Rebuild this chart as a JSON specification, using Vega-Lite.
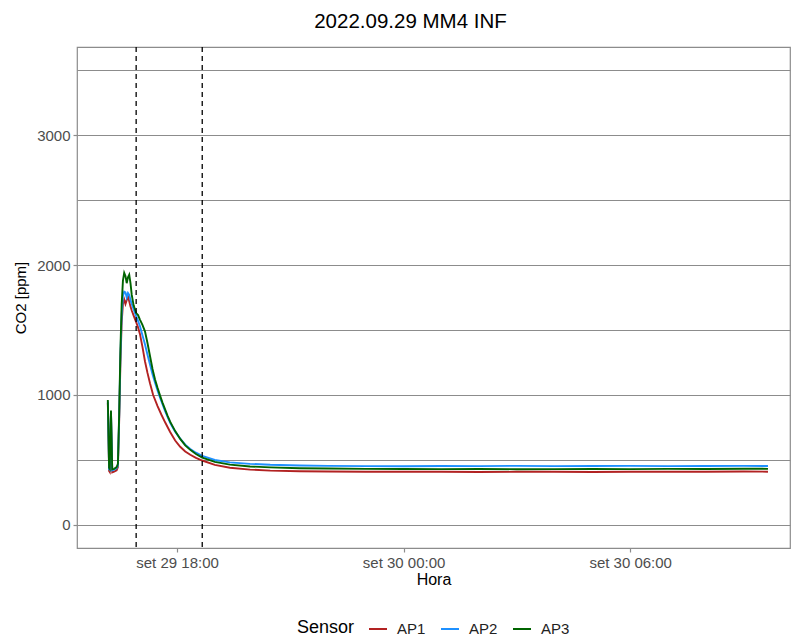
{
  "$schema": "https://vega.github.io/schema/vega-lite/v6.json",
  "width": 713,
  "height": 501,
  "autosize": {"type": "none"},
  "padding": {"left": 77, "top": 47, "right": 2, "bottom": 91},
  "background": "white",
  "title": {"text": "2022.09.29 MM4 INF", "fontSize": 20.5, "font": "Liberation Sans", "fontWeight": "normal", "color": "#000000", "anchor": "middle", "offset": 14, "dx": -23},
  "config": {"view": {"stroke": "#8c8c8c", "strokeWidth": 1.2}, "font": "Liberation Sans"},
  "datasets": {
    "co2": [
      {"Hora": "2022-09-29T16:10:00Z", "Sensor": "AP1", "CO2": 940},
      {"Hora": "2022-09-29T16:12:00Z", "Sensor": "AP1", "CO2": 415},
      {"Hora": "2022-09-29T16:13:00Z", "Sensor": "AP1", "CO2": 408},
      {"Hora": "2022-09-29T16:15:00Z", "Sensor": "AP1", "CO2": 860},
      {"Hora": "2022-09-29T16:17:00Z", "Sensor": "AP1", "CO2": 405},
      {"Hora": "2022-09-29T16:20:00Z", "Sensor": "AP1", "CO2": 410},
      {"Hora": "2022-09-29T16:24:00Z", "Sensor": "AP1", "CO2": 420},
      {"Hora": "2022-09-29T16:26:00Z", "Sensor": "AP1", "CO2": 445},
      {"Hora": "2022-09-29T16:28:00Z", "Sensor": "AP1", "CO2": 800},
      {"Hora": "2022-09-29T16:30:00Z", "Sensor": "AP1", "CO2": 1250},
      {"Hora": "2022-09-29T16:32:00Z", "Sensor": "AP1", "CO2": 1560},
      {"Hora": "2022-09-29T16:34:00Z", "Sensor": "AP1", "CO2": 1700},
      {"Hora": "2022-09-29T16:36:00Z", "Sensor": "AP1", "CO2": 1735},
      {"Hora": "2022-09-29T16:38:00Z", "Sensor": "AP1", "CO2": 1700},
      {"Hora": "2022-09-29T16:40:00Z", "Sensor": "AP1", "CO2": 1730},
      {"Hora": "2022-09-29T16:42:00Z", "Sensor": "AP1", "CO2": 1760},
      {"Hora": "2022-09-29T16:44:00Z", "Sensor": "AP1", "CO2": 1720},
      {"Hora": "2022-09-29T16:46:00Z", "Sensor": "AP1", "CO2": 1680},
      {"Hora": "2022-09-29T16:48:00Z", "Sensor": "AP1", "CO2": 1650},
      {"Hora": "2022-09-29T16:51:00Z", "Sensor": "AP1", "CO2": 1610},
      {"Hora": "2022-09-29T16:55:00Z", "Sensor": "AP1", "CO2": 1560},
      {"Hora": "2022-09-29T16:58:00Z", "Sensor": "AP1", "CO2": 1520},
      {"Hora": "2022-09-29T17:01:00Z", "Sensor": "AP1", "CO2": 1470},
      {"Hora": "2022-09-29T17:05:00Z", "Sensor": "AP1", "CO2": 1370},
      {"Hora": "2022-09-29T17:09:00Z", "Sensor": "AP1", "CO2": 1260},
      {"Hora": "2022-09-29T17:13:00Z", "Sensor": "AP1", "CO2": 1170},
      {"Hora": "2022-09-29T17:17:00Z", "Sensor": "AP1", "CO2": 1090},
      {"Hora": "2022-09-29T17:22:00Z", "Sensor": "AP1", "CO2": 1000},
      {"Hora": "2022-09-29T17:29:00Z", "Sensor": "AP1", "CO2": 915},
      {"Hora": "2022-09-29T17:35:00Z", "Sensor": "AP1", "CO2": 850},
      {"Hora": "2022-09-29T17:41:00Z", "Sensor": "AP1", "CO2": 790},
      {"Hora": "2022-09-29T17:49:00Z", "Sensor": "AP1", "CO2": 715},
      {"Hora": "2022-09-29T17:57:00Z", "Sensor": "AP1", "CO2": 650},
      {"Hora": "2022-09-29T18:05:00Z", "Sensor": "AP1", "CO2": 602},
      {"Hora": "2022-09-29T18:13:00Z", "Sensor": "AP1", "CO2": 566},
      {"Hora": "2022-09-29T18:21:00Z", "Sensor": "AP1", "CO2": 540},
      {"Hora": "2022-09-29T18:30:00Z", "Sensor": "AP1", "CO2": 516},
      {"Hora": "2022-09-29T18:40:00Z", "Sensor": "AP1", "CO2": 496},
      {"Hora": "2022-09-29T19:00:00Z", "Sensor": "AP1", "CO2": 462},
      {"Hora": "2022-09-29T19:24:00Z", "Sensor": "AP1", "CO2": 440},
      {"Hora": "2022-09-29T19:56:00Z", "Sensor": "AP1", "CO2": 426},
      {"Hora": "2022-09-29T20:28:00Z", "Sensor": "AP1", "CO2": 418},
      {"Hora": "2022-09-29T21:15:00Z", "Sensor": "AP1", "CO2": 413},
      {"Hora": "2022-09-29T22:00:00Z", "Sensor": "AP1", "CO2": 411},
      {"Hora": "2022-09-29T23:00:00Z", "Sensor": "AP1", "CO2": 410},
      {"Hora": "2022-09-30T00:00:00Z", "Sensor": "AP1", "CO2": 409},
      {"Hora": "2022-09-30T01:00:00Z", "Sensor": "AP1", "CO2": 410},
      {"Hora": "2022-09-30T02:00:00Z", "Sensor": "AP1", "CO2": 408},
      {"Hora": "2022-09-30T03:00:00Z", "Sensor": "AP1", "CO2": 409},
      {"Hora": "2022-09-30T04:00:00Z", "Sensor": "AP1", "CO2": 410},
      {"Hora": "2022-09-30T05:00:00Z", "Sensor": "AP1", "CO2": 408},
      {"Hora": "2022-09-30T06:00:00Z", "Sensor": "AP1", "CO2": 409},
      {"Hora": "2022-09-30T07:00:00Z", "Sensor": "AP1", "CO2": 410},
      {"Hora": "2022-09-30T08:00:00Z", "Sensor": "AP1", "CO2": 409},
      {"Hora": "2022-09-30T09:00:00Z", "Sensor": "AP1", "CO2": 411},
      {"Hora": "2022-09-30T09:39:00Z", "Sensor": "AP1", "CO2": 410},

      {"Hora": "2022-09-29T16:10:00Z", "Sensor": "AP2", "CO2": 950},
      {"Hora": "2022-09-29T16:12:00Z", "Sensor": "AP2", "CO2": 430},
      {"Hora": "2022-09-29T16:13:00Z", "Sensor": "AP2", "CO2": 425},
      {"Hora": "2022-09-29T16:15:00Z", "Sensor": "AP2", "CO2": 870},
      {"Hora": "2022-09-29T16:17:00Z", "Sensor": "AP2", "CO2": 420},
      {"Hora": "2022-09-29T16:20:00Z", "Sensor": "AP2", "CO2": 425},
      {"Hora": "2022-09-29T16:24:00Z", "Sensor": "AP2", "CO2": 438},
      {"Hora": "2022-09-29T16:26:00Z", "Sensor": "AP2", "CO2": 460},
      {"Hora": "2022-09-29T16:28:00Z", "Sensor": "AP2", "CO2": 830},
      {"Hora": "2022-09-29T16:30:00Z", "Sensor": "AP2", "CO2": 1300},
      {"Hora": "2022-09-29T16:32:00Z", "Sensor": "AP2", "CO2": 1620},
      {"Hora": "2022-09-29T16:34:00Z", "Sensor": "AP2", "CO2": 1760},
      {"Hora": "2022-09-29T16:36:00Z", "Sensor": "AP2", "CO2": 1795},
      {"Hora": "2022-09-29T16:38:00Z", "Sensor": "AP2", "CO2": 1790},
      {"Hora": "2022-09-29T16:40:00Z", "Sensor": "AP2", "CO2": 1750},
      {"Hora": "2022-09-29T16:42:00Z", "Sensor": "AP2", "CO2": 1785},
      {"Hora": "2022-09-29T16:44:00Z", "Sensor": "AP2", "CO2": 1770},
      {"Hora": "2022-09-29T16:46:00Z", "Sensor": "AP2", "CO2": 1730},
      {"Hora": "2022-09-29T16:48:00Z", "Sensor": "AP2", "CO2": 1700},
      {"Hora": "2022-09-29T16:51:00Z", "Sensor": "AP2", "CO2": 1660},
      {"Hora": "2022-09-29T16:55:00Z", "Sensor": "AP2", "CO2": 1605},
      {"Hora": "2022-09-29T16:58:00Z", "Sensor": "AP2", "CO2": 1570},
      {"Hora": "2022-09-29T17:01:00Z", "Sensor": "AP2", "CO2": 1530},
      {"Hora": "2022-09-29T17:05:00Z", "Sensor": "AP2", "CO2": 1460},
      {"Hora": "2022-09-29T17:09:00Z", "Sensor": "AP2", "CO2": 1390},
      {"Hora": "2022-09-29T17:13:00Z", "Sensor": "AP2", "CO2": 1310},
      {"Hora": "2022-09-29T17:17:00Z", "Sensor": "AP2", "CO2": 1235},
      {"Hora": "2022-09-29T17:21:00Z", "Sensor": "AP2", "CO2": 1160},
      {"Hora": "2022-09-29T17:25:00Z", "Sensor": "AP2", "CO2": 1095},
      {"Hora": "2022-09-29T17:29:00Z", "Sensor": "AP2", "CO2": 1035},
      {"Hora": "2022-09-29T17:33:00Z", "Sensor": "AP2", "CO2": 980},
      {"Hora": "2022-09-29T17:41:00Z", "Sensor": "AP2", "CO2": 875},
      {"Hora": "2022-09-29T17:49:00Z", "Sensor": "AP2", "CO2": 785},
      {"Hora": "2022-09-29T17:57:00Z", "Sensor": "AP2", "CO2": 718},
      {"Hora": "2022-09-29T18:05:00Z", "Sensor": "AP2", "CO2": 664},
      {"Hora": "2022-09-29T18:13:00Z", "Sensor": "AP2", "CO2": 618},
      {"Hora": "2022-09-29T18:21:00Z", "Sensor": "AP2", "CO2": 584},
      {"Hora": "2022-09-29T18:30:00Z", "Sensor": "AP2", "CO2": 556},
      {"Hora": "2022-09-29T18:40:00Z", "Sensor": "AP2", "CO2": 532},
      {"Hora": "2022-09-29T19:00:00Z", "Sensor": "AP2", "CO2": 500},
      {"Hora": "2022-09-29T19:24:00Z", "Sensor": "AP2", "CO2": 482},
      {"Hora": "2022-09-29T19:56:00Z", "Sensor": "AP2", "CO2": 470},
      {"Hora": "2022-09-29T20:28:00Z", "Sensor": "AP2", "CO2": 463},
      {"Hora": "2022-09-29T21:15:00Z", "Sensor": "AP2", "CO2": 458},
      {"Hora": "2022-09-29T22:00:00Z", "Sensor": "AP2", "CO2": 455},
      {"Hora": "2022-09-29T23:00:00Z", "Sensor": "AP2", "CO2": 453},
      {"Hora": "2022-09-30T00:00:00Z", "Sensor": "AP2", "CO2": 452},
      {"Hora": "2022-09-30T01:00:00Z", "Sensor": "AP2", "CO2": 454},
      {"Hora": "2022-09-30T02:00:00Z", "Sensor": "AP2", "CO2": 453},
      {"Hora": "2022-09-30T03:00:00Z", "Sensor": "AP2", "CO2": 455},
      {"Hora": "2022-09-30T04:00:00Z", "Sensor": "AP2", "CO2": 453},
      {"Hora": "2022-09-30T05:00:00Z", "Sensor": "AP2", "CO2": 454},
      {"Hora": "2022-09-30T06:00:00Z", "Sensor": "AP2", "CO2": 455},
      {"Hora": "2022-09-30T07:00:00Z", "Sensor": "AP2", "CO2": 453},
      {"Hora": "2022-09-30T08:00:00Z", "Sensor": "AP2", "CO2": 454},
      {"Hora": "2022-09-30T09:00:00Z", "Sensor": "AP2", "CO2": 455},
      {"Hora": "2022-09-30T09:39:00Z", "Sensor": "AP2", "CO2": 454},

      {"Hora": "2022-09-29T16:10:00Z", "Sensor": "AP3", "CO2": 962},
      {"Hora": "2022-09-29T16:12:00Z", "Sensor": "AP3", "CO2": 440},
      {"Hora": "2022-09-29T16:13:00Z", "Sensor": "AP3", "CO2": 432},
      {"Hora": "2022-09-29T16:15:00Z", "Sensor": "AP3", "CO2": 880},
      {"Hora": "2022-09-29T16:17:00Z", "Sensor": "AP3", "CO2": 428},
      {"Hora": "2022-09-29T16:20:00Z", "Sensor": "AP3", "CO2": 432},
      {"Hora": "2022-09-29T16:24:00Z", "Sensor": "AP3", "CO2": 445},
      {"Hora": "2022-09-29T16:26:00Z", "Sensor": "AP3", "CO2": 470},
      {"Hora": "2022-09-29T16:28:00Z", "Sensor": "AP3", "CO2": 850},
      {"Hora": "2022-09-29T16:30:00Z", "Sensor": "AP3", "CO2": 1350},
      {"Hora": "2022-09-29T16:32:00Z", "Sensor": "AP3", "CO2": 1700},
      {"Hora": "2022-09-29T16:34:00Z", "Sensor": "AP3", "CO2": 1880},
      {"Hora": "2022-09-29T16:36:00Z", "Sensor": "AP3", "CO2": 1940},
      {"Hora": "2022-09-29T16:38:00Z", "Sensor": "AP3", "CO2": 1915},
      {"Hora": "2022-09-29T16:40:00Z", "Sensor": "AP3", "CO2": 1860},
      {"Hora": "2022-09-29T16:42:00Z", "Sensor": "AP3", "CO2": 1905},
      {"Hora": "2022-09-29T16:44:00Z", "Sensor": "AP3", "CO2": 1925},
      {"Hora": "2022-09-29T16:46:00Z", "Sensor": "AP3", "CO2": 1860},
      {"Hora": "2022-09-29T16:48:00Z", "Sensor": "AP3", "CO2": 1770},
      {"Hora": "2022-09-29T16:51:00Z", "Sensor": "AP3", "CO2": 1690},
      {"Hora": "2022-09-29T16:55:00Z", "Sensor": "AP3", "CO2": 1630},
      {"Hora": "2022-09-29T16:58:00Z", "Sensor": "AP3", "CO2": 1615},
      {"Hora": "2022-09-29T17:01:00Z", "Sensor": "AP3", "CO2": 1580},
      {"Hora": "2022-09-29T17:05:00Z", "Sensor": "AP3", "CO2": 1540},
      {"Hora": "2022-09-29T17:09:00Z", "Sensor": "AP3", "CO2": 1490},
      {"Hora": "2022-09-29T17:13:00Z", "Sensor": "AP3", "CO2": 1400},
      {"Hora": "2022-09-29T17:17:00Z", "Sensor": "AP3", "CO2": 1300},
      {"Hora": "2022-09-29T17:21:00Z", "Sensor": "AP3", "CO2": 1200},
      {"Hora": "2022-09-29T17:25:00Z", "Sensor": "AP3", "CO2": 1120},
      {"Hora": "2022-09-29T17:29:00Z", "Sensor": "AP3", "CO2": 1055},
      {"Hora": "2022-09-29T17:33:00Z", "Sensor": "AP3", "CO2": 995},
      {"Hora": "2022-09-29T17:37:00Z", "Sensor": "AP3", "CO2": 940},
      {"Hora": "2022-09-29T17:41:00Z", "Sensor": "AP3", "CO2": 890},
      {"Hora": "2022-09-29T17:45:00Z", "Sensor": "AP3", "CO2": 840},
      {"Hora": "2022-09-29T17:49:00Z", "Sensor": "AP3", "CO2": 795},
      {"Hora": "2022-09-29T17:57:00Z", "Sensor": "AP3", "CO2": 722},
      {"Hora": "2022-09-29T18:05:00Z", "Sensor": "AP3", "CO2": 662},
      {"Hora": "2022-09-29T18:13:00Z", "Sensor": "AP3", "CO2": 612},
      {"Hora": "2022-09-29T18:21:00Z", "Sensor": "AP3", "CO2": 578},
      {"Hora": "2022-09-29T18:30:00Z", "Sensor": "AP3", "CO2": 546},
      {"Hora": "2022-09-29T18:40:00Z", "Sensor": "AP3", "CO2": 518},
      {"Hora": "2022-09-29T19:00:00Z", "Sensor": "AP3", "CO2": 486},
      {"Hora": "2022-09-29T19:24:00Z", "Sensor": "AP3", "CO2": 464},
      {"Hora": "2022-09-29T19:56:00Z", "Sensor": "AP3", "CO2": 450},
      {"Hora": "2022-09-29T20:28:00Z", "Sensor": "AP3", "CO2": 443},
      {"Hora": "2022-09-29T21:15:00Z", "Sensor": "AP3", "CO2": 437},
      {"Hora": "2022-09-29T22:00:00Z", "Sensor": "AP3", "CO2": 434},
      {"Hora": "2022-09-29T23:00:00Z", "Sensor": "AP3", "CO2": 432},
      {"Hora": "2022-09-30T00:00:00Z", "Sensor": "AP3", "CO2": 431},
      {"Hora": "2022-09-30T01:00:00Z", "Sensor": "AP3", "CO2": 430},
      {"Hora": "2022-09-30T02:00:00Z", "Sensor": "AP3", "CO2": 431},
      {"Hora": "2022-09-30T03:00:00Z", "Sensor": "AP3", "CO2": 429},
      {"Hora": "2022-09-30T04:00:00Z", "Sensor": "AP3", "CO2": 430},
      {"Hora": "2022-09-30T05:00:00Z", "Sensor": "AP3", "CO2": 431},
      {"Hora": "2022-09-30T06:00:00Z", "Sensor": "AP3", "CO2": 430},
      {"Hora": "2022-09-30T07:00:00Z", "Sensor": "AP3", "CO2": 432},
      {"Hora": "2022-09-30T08:00:00Z", "Sensor": "AP3", "CO2": 431},
      {"Hora": "2022-09-30T09:00:00Z", "Sensor": "AP3", "CO2": 433},
      {"Hora": "2022-09-30T09:39:00Z", "Sensor": "AP3", "CO2": 432}
    ],
    "marcas": [
      {"Hora": "2022-09-29T16:55:00Z"},
      {"Hora": "2022-09-29T18:40:00Z"}
    ]
  },
  "layer": [
    {
      "data": {"name": "co2"},
      "mark": {"type": "line", "strokeWidth": 1.9, "clip": true},
      "encoding": {
        "x": {
          "field": "Hora", "type": "temporal",
          "scale": {"type": "utc", "domain": [
            {"year": 2022, "month": 9, "date": 29, "hours": 15, "minutes": 21, "utc": true},
            {"year": 2022, "month": 9, "date": 30, "hours": 10, "minutes": 14, "utc": true}
          ]},
          "axis": {
            "title": "Hora",
            "values": [
              {"year": 2022, "month": 9, "date": 29, "hours": 18, "utc": true},
              {"year": 2022, "month": 9, "date": 30, "hours": 0, "utc": true},
              {"year": 2022, "month": 9, "date": 30, "hours": 6, "utc": true}
            ],
            "labelExpr": "'set ' + utcFormat(datum.value, '%d %H:%M')",
            "grid": false, "domain": false,
            "tickColor": "#8c8c8c", "tickSize": 4, "tickWidth": 1.2,
            "labelFontSize": 15, "labelColor": "#4d4d4d", "labelPadding": 3,
            "titleFontSize": 16, "titleFontWeight": "normal", "titleColor": "#000000", "titlePadding": 1
          }
        },
        "y": {
          "field": "CO2", "type": "quantitative",
          "scale": {"domain": [-177, 3677], "nice": false, "zero": false},
          "axis": {
            "title": "CO2 [ppm]",
            "values": [0, 500, 1000, 1500, 2000, 2500, 3000, 3500],
            "format": "d",
            "labelExpr": "datum.value % 1000 === 0 ? datum.label : ''",
            "tickOpacity": {"condition": {"test": "datum.value % 1000 !== 0", "value": 0}, "value": 1},
            "grid": true, "gridColor": "#8c8c8c", "gridWidth": 1.2,
            "domain": false,
            "tickColor": "#8c8c8c", "tickSize": 4, "tickWidth": 1.2,
            "labelFontSize": 15, "labelColor": "#4d4d4d", "labelPadding": 3,
            "titleFontSize": 15, "titleFontWeight": "normal", "titleColor": "#000000", "titlePadding": 8
          }
        },
        "color": {
          "field": "Sensor", "type": "nominal",
          "scale": {"domain": ["AP1", "AP2", "AP3"], "range": ["#B22222", "#1E90FF", "#006400"]},
          "legend": {
            "orient": "none", "legendX": 220, "legendY": 572,
            "direction": "horizontal", "titleOrient": "left",
            "title": "Sensor", "titleFontSize": 18, "titleFontWeight": "normal", "titleColor": "#000000",
            "labelFontSize": 15, "labelColor": "#222222",
            "symbolType": "stroke", "symbolStrokeWidth": 2, "symbolSize": 324,
            "labelOffset": 9, "columnPadding": 11, "titlePadding": 13
          }
        }
      }
    },
    {
      "data": {"name": "marcas"},
      "mark": {"type": "rule", "strokeDash": [5, 4], "color": "#000000", "strokeWidth": 1.3},
      "encoding": {"x": {"field": "Hora", "type": "temporal"}}
    }
  ]
}
